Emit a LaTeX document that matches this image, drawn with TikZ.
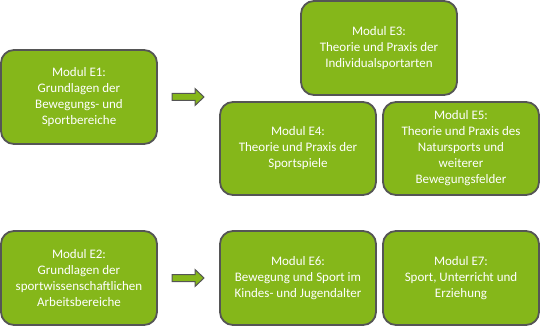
\documentclass[tikz,border=0pt]{standalone}
\usepackage{fontspec}
\setmainfont{Carlito}
\usetikzlibrary{calc}
\definecolor{boxgreen}{HTML}{85B71A}
\definecolor{boxedge}{HTML}{555555}
\begin{document}
\begin{tikzpicture}[x=1pt,y=-1pt,
  modbox/.style={draw=boxedge,line width=1.8pt,fill=boxgreen,rounded corners=13pt,
    text=white,align=center,font=\fontsize{13}{16}\selectfont,inner sep=0pt},
  fatarrow/.style={draw=boxedge,line width=1pt,fill=boxgreen}]
\useasboundingbox (0,0) rectangle (541,326);
\node[modbox,minimum width=156pt,minimum height=94pt] (e1) at (79,97) {Modul E1:\\Grundlagen der\\Bewegungs- und\\Sportbereiche};
\node[modbox,minimum width=156pt,minimum height=94pt] (e2) at (79,278) {Modul E2:\\Grundlagen der\\sportwissenschaftlichen\\Arbeitsbereiche};
\node[modbox,minimum width=156pt,minimum height=94pt] (e3) at (379,48) {Modul E3:\\Theorie und Praxis der\\Individualsportarten};
\node[modbox,minimum width=156pt,minimum height=93pt] (e4) at (298,148.5) {Modul E4:\\Theorie und Praxis der\\Sportspiele};
\node[modbox,minimum width=156pt,minimum height=93pt] (e5) at (461,148.5) {Modul E5:\\Theorie und Praxis des\\Natursports und\\weiterer\\Bewegungsfelder};
\node[modbox,minimum width=156pt,minimum height=94pt] (e6) at (298,278) {Modul E6:\\Bewegung und Sport im\\Kindes- und Jugendalter};
\node[modbox,minimum width=156pt,minimum height=94pt] (e7) at (461,278) {Modul E7:\\Sport, Unterricht und\\Erziehung};
\coordinate (a1) at (172,97);
\coordinate (a2) at (172,278);
\foreach \a in {a1,a2}{
  \draw[fatarrow] ($(\a)+(0,-3.5)$) -- ++(23,0) -- ++(0,-5) -- ++(9,8.5) -- ++(-9,8.5) -- ++(0,-5) -- ++(-23,0) -- cycle;
}
\end{tikzpicture}
\end{document}
